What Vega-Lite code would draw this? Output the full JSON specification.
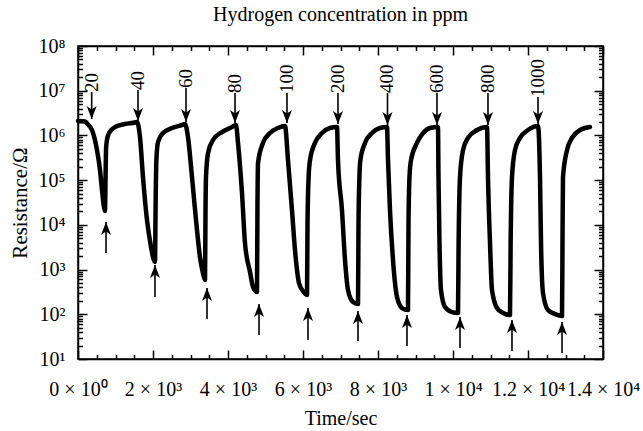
{
  "$schema": "https://vega.github.io/schema/vega-lite/v6.json",
  "width": 525,
  "height": 313,
  "autosize": {"type": "none"},
  "padding": {"left": 78, "top": 46, "right": 40, "bottom": 72},
  "background": "white",
  "config": {
    "font": "Liberation Serif",
    "view": {"stroke": "black", "strokeWidth": 1.5},
    "axis": {"grid": false, "domainColor": "black", "domainWidth": 1.5, "tickColor": "black", "tickWidth": 1.5, "labelColor": "black", "labelFont": "Liberation Serif", "titleFont": "Liberation Serif", "titleColor": "black", "titleFontWeight": "normal", "labelFontSize": 20, "titleFontSize": 20}
  },
  "title": {"text": "Hydrogen concentration in ppm", "font": "Liberation Serif", "fontSize": 20, "fontWeight": "normal", "color": "black", "frame": "group", "anchor": "middle", "offset": -5, "baseline": "alphabetic"},
  "datasets": {
    "curve": [
      {"t": 0, "R": 2100000}, {"t": 187, "R": 2050000}, {"t": 267, "R": 1750000}, {"t": 373, "R": 1320000}, {"t": 507, "R": 470000}, {"t": 587, "R": 169000}, {"t": 640, "R": 60000}, {"t": 693, "R": 25000}, {"t": 720, "R": 20500}, {"t": 735, "R": 120000}, {"t": 750, "R": 550000}, {"t": 800, "R": 1000000}, {"t": 900, "R": 1350000}, {"t": 987, "R": 1540000}, {"t": 1253, "R": 1800000}, {"t": 1520, "R": 1950000}, {"t": 1573, "R": 2000000},
      {"t": 1653, "R": 920000}, {"t": 1733, "R": 117000}, {"t": 1840, "R": 12800}, {"t": 1947, "R": 3200}, {"t": 2000, "R": 1900}, {"t": 2053, "R": 1480}, {"t": 2070, "R": 30000}, {"t": 2090, "R": 280000}, {"t": 2133, "R": 710000}, {"t": 2267, "R": 1130000}, {"t": 2507, "R": 1470000}, {"t": 2773, "R": 1710000}, {"t": 2853, "R": 1800000},
      {"t": 2933, "R": 920000}, {"t": 3040, "R": 117000}, {"t": 3147, "R": 12800}, {"t": 3253, "R": 1900}, {"t": 3330, "R": 850}, {"t": 3387, "R": 584}, {"t": 3400, "R": 20000}, {"t": 3413, "R": 117000}, {"t": 3467, "R": 400000}, {"t": 3600, "R": 790000}, {"t": 3840, "R": 1190000}, {"t": 4107, "R": 1540000}, {"t": 4213, "R": 1710000},
      {"t": 4267, "R": 680000}, {"t": 4373, "R": 52000}, {"t": 4453, "R": 3900}, {"t": 4587, "R": 881}, {"t": 4667, "R": 407}, {"t": 4773, "R": 315}, {"t": 4785, "R": 21000}, {"t": 4800, "R": 240000}, {"t": 4933, "R": 680000}, {"t": 5120, "R": 1130000}, {"t": 5333, "R": 1470000}, {"t": 5520, "R": 1620000},
      {"t": 5600, "R": 280000}, {"t": 5707, "R": 21000}, {"t": 5787, "R": 2700}, {"t": 5893, "R": 500}, {"t": 6000, "R": 330}, {"t": 6107, "R": 270}, {"t": 6120, "R": 10000}, {"t": 6150, "R": 120000}, {"t": 6187, "R": 280000}, {"t": 6320, "R": 680000}, {"t": 6507, "R": 1130000}, {"t": 6720, "R": 1470000}, {"t": 6907, "R": 1540000},
      {"t": 6933, "R": 280000}, {"t": 7040, "R": 21000}, {"t": 7120, "R": 1640}, {"t": 7200, "R": 349}, {"t": 7333, "R": 188}, {"t": 7467, "R": 170}, {"t": 7480, "R": 10000}, {"t": 7505, "R": 120000}, {"t": 7530, "R": 280000}, {"t": 7653, "R": 680000}, {"t": 7840, "R": 1130000}, {"t": 8053, "R": 1470000}, {"t": 8240, "R": 1540000},
      {"t": 8267, "R": 280000}, {"t": 8320, "R": 21000}, {"t": 8400, "R": 1640}, {"t": 8507, "R": 243}, {"t": 8640, "R": 138}, {"t": 8800, "R": 124}, {"t": 8813, "R": 10000}, {"t": 8840, "R": 120000}, {"t": 8880, "R": 280000}, {"t": 9040, "R": 680000}, {"t": 9200, "R": 1130000}, {"t": 9387, "R": 1470000}, {"t": 9600, "R": 1540000},
      {"t": 9613, "R": 117000}, {"t": 9640, "R": 3900}, {"t": 9680, "R": 349}, {"t": 9787, "R": 145}, {"t": 9973, "R": 112}, {"t": 10133, "R": 107}, {"t": 10150, "R": 3900}, {"t": 10187, "R": 117000}, {"t": 10267, "R": 470000}, {"t": 10400, "R": 880000}, {"t": 10640, "R": 1320000}, {"t": 10907, "R": 1540000},
      {"t": 10933, "R": 117000}, {"t": 10987, "R": 3900}, {"t": 11040, "R": 349}, {"t": 11173, "R": 138}, {"t": 11333, "R": 107}, {"t": 11520, "R": 96}, {"t": 11537, "R": 3900}, {"t": 11573, "R": 117000}, {"t": 11653, "R": 470000}, {"t": 11787, "R": 880000}, {"t": 12000, "R": 1320000}, {"t": 12267, "R": 1620000},
      {"t": 12320, "R": 117000}, {"t": 12347, "R": 3900}, {"t": 12400, "R": 299}, {"t": 12533, "R": 124}, {"t": 12720, "R": 101}, {"t": 12907, "R": 91}, {"t": 12920, "R": 3900}, {"t": 12933, "R": 117000}, {"t": 13040, "R": 470000}, {"t": 13173, "R": 880000}, {"t": 13387, "R": 1320000}, {"t": 13653, "R": 1540000}
    ],
    "down": [
      {"t": 365, "tip": 2330000, "top": 9350000, "label": "20"},
      {"t": 1600, "tip": 2100000, "top": 10400000, "label": "40"},
      {"t": 2880, "tip": 2000000, "top": 11500000, "label": "60"},
      {"t": 4187, "tip": 1900000, "top": 8900000, "label": "80"},
      {"t": 5573, "tip": 1900000, "top": 8900000, "label": "100"},
      {"t": 6933, "tip": 1800000, "top": 8900000, "label": "200"},
      {"t": 8253, "tip": 1710000, "top": 8900000, "label": "400"},
      {"t": 9573, "tip": 1710000, "top": 8900000, "label": "600"},
      {"t": 10933, "tip": 1710000, "top": 8900000, "label": "800"},
      {"t": 12267, "tip": 1800000, "top": 7200000, "label": "1000"}
    ],
    "up": [
      {"t": 747, "tip": 11600, "bot": 2350},
      {"t": 2053, "tip": 1260, "bot": 243},
      {"t": 3440, "tip": 386, "bot": 78.4},
      {"t": 4827, "tip": 170, "bot": 34.4},
      {"t": 6133, "tip": 138, "bot": 26.5},
      {"t": 7467, "tip": 118, "bot": 25.3},
      {"t": 8773, "tip": 96, "bot": 19.5},
      {"t": 10187, "tip": 86.8, "bot": 17.6},
      {"t": 11573, "tip": 74.5, "bot": 15.1},
      {"t": 12907, "tip": 67.2, "bot": 13.6}
    ]
  },
  "resolve": {"axis": {"x": "independent", "y": "independent"}},
  "layer": [
    {
      "data": {"name": "curve"},
      "mark": {"type": "line", "color": "black", "strokeWidth": 4.5, "interpolate": "monotone", "strokeCap": "round", "strokeJoin": "round"},
      "encoding": {
        "x": {"field": "t", "type": "quantitative", "scale": {"domain": [0, 14000], "nice": false, "zero": false},
          "axis": {"orient": "bottom", "values": [0, 2000, 4000, 6000, 8000, 10000, 12000, 14000], "tickSize": -9, "labelPadding": 29, "labelOverlap": false, "labelFlush": false,
            "labelExpr": "datum.value == 0 ? '0 × 10⁰' : datum.value < 10000 ? (datum.value/1000) + ' × 10³' : (datum.value/10000) + ' × 10⁴'",
            "title": "Time/sec", "titlePadding": 9}},
        "y": {"field": "R", "type": "quantitative", "scale": {"type": "log", "domain": [10, 100000000], "nice": false},
          "axis": {"orient": "left", "values": [10, 100, 1000, 10000, 100000, 1000000, 10000000, 100000000], "tickSize": -9, "labelPadding": 22, "labelOverlap": false, "labelFlush": false,
            "labelExpr": "'10' + ['⁰','¹','²','³','⁴','⁵','⁶','⁷','⁸'][round(log(datum.value)/LN10)]",
            "title": "Resistance/Ω", "titleFontSize": 21, "titlePadding": 8}}
      }
    },
    {
      "data": {"name": "down"},
      "mark": {"type": "rule", "color": "black", "strokeWidth": 1.6},
      "encoding": {
        "x": {"field": "t", "type": "quantitative", "scale": {"domain": [0, 14000], "nice": false, "zero": false},
          "axis": {"orient": "top", "values": [0, 2000, 4000, 6000, 8000, 10000, 12000, 14000], "tickSize": -9, "labels": false, "title": null}},
        "y": {"field": "top", "type": "quantitative", "scale": {"type": "log", "domain": [10, 100000000], "nice": false},
          "axis": {"orient": "right", "values": [10, 100, 1000, 10000, 100000, 1000000, 10000000, 100000000], "tickSize": -9, "labels": false, "title": null}},
        "y2": {"field": "tip"}
      }
    },
    {
      "data": {"name": "up"},
      "mark": {"type": "rule", "color": "black", "strokeWidth": 1.6},
      "encoding": {
        "x": {"field": "t", "type": "quantitative", "scale": {"domain": [0, 14000], "nice": false, "zero": false},
          "axis": {"orient": "bottom", "values": [500, 1000, 1500, 2500, 3000, 3500, 4500, 5000, 5500, 6500, 7000, 7500, 8500, 9000, 9500, 10500, 11000, 11500, 12500, 13000, 13500], "tickSize": -4.5, "labels": false, "domain": false, "title": null}},
        "y": {"field": "bot", "type": "quantitative", "scale": {"type": "log", "domain": [10, 100000000], "nice": false},
          "axis": {"orient": "left", "values": [20, 30, 40, 50, 60, 70, 80, 90, 200, 300, 400, 500, 600, 700, 800, 900, 2000, 3000, 4000, 5000, 6000, 7000, 8000, 9000, 20000, 30000, 40000, 50000, 60000, 70000, 80000, 90000, 200000, 300000, 400000, 500000, 600000, 700000, 800000, 900000, 2000000, 3000000, 4000000, 5000000, 6000000, 7000000, 8000000, 9000000, 20000000, 30000000, 40000000, 50000000, 60000000, 70000000, 80000000, 90000000], "tickSize": -4.5, "labels": false, "domain": false, "title": null}},
        "y2": {"field": "tip"}
      }
    },
    {
      "data": {"name": "down"},
      "mark": {"type": "point", "shape": "M0,0L-1,-2.6L0,-1.9L1,-2.6Z", "size": 100, "filled": true, "color": "black", "opacity": 1, "strokeWidth": 0},
      "encoding": {
        "x": {"field": "t", "type": "quantitative", "scale": {"domain": [0, 14000], "nice": false, "zero": false},
          "axis": {"orient": "top", "values": [500, 1000, 1500, 2500, 3000, 3500, 4500, 5000, 5500, 6500, 7000, 7500, 8500, 9000, 9500, 10500, 11000, 11500, 12500, 13000, 13500], "tickSize": -4.5, "labels": false, "domain": false, "title": null}},
        "y": {"field": "tip", "type": "quantitative", "scale": {"type": "log", "domain": [10, 100000000], "nice": false},
          "axis": {"orient": "right", "values": [20, 30, 40, 50, 60, 70, 80, 90, 200, 300, 400, 500, 600, 700, 800, 900, 2000, 3000, 4000, 5000, 6000, 7000, 8000, 9000, 20000, 30000, 40000, 50000, 60000, 70000, 80000, 90000, 200000, 300000, 400000, 500000, 600000, 700000, 800000, 900000, 2000000, 3000000, 4000000, 5000000, 6000000, 7000000, 8000000, 9000000, 20000000, 30000000, 40000000, 50000000, 60000000, 70000000, 80000000, 90000000], "tickSize": -4.5, "labels": false, "domain": false, "title": null}}
      }
    },
    {
      "data": {"name": "up"},
      "mark": {"type": "point", "shape": "M0,0L-1,2.6L0,1.9L1,2.6Z", "size": 100, "filled": true, "color": "black", "opacity": 1, "strokeWidth": 0},
      "encoding": {
        "x": {"field": "t", "type": "quantitative", "scale": {"domain": [0, 14000], "nice": false, "zero": false}, "axis": null},
        "y": {"field": "tip", "type": "quantitative", "scale": {"type": "log", "domain": [10, 100000000], "nice": false}, "axis": null}
      }
    },
    {
      "data": {"name": "down"},
      "mark": {"type": "text", "angle": 270, "align": "left", "baseline": "middle", "font": "Liberation Serif", "fontSize": 19, "color": "black"},
      "encoding": {
        "x": {"field": "t", "type": "quantitative", "scale": {"domain": [0, 14000], "nice": false, "zero": false}, "axis": null},
        "y": {"field": "top", "type": "quantitative", "scale": {"type": "log", "domain": [10, 100000000], "nice": false}, "axis": null},
        "text": {"field": "label"}
      }
    }
  ]
}
